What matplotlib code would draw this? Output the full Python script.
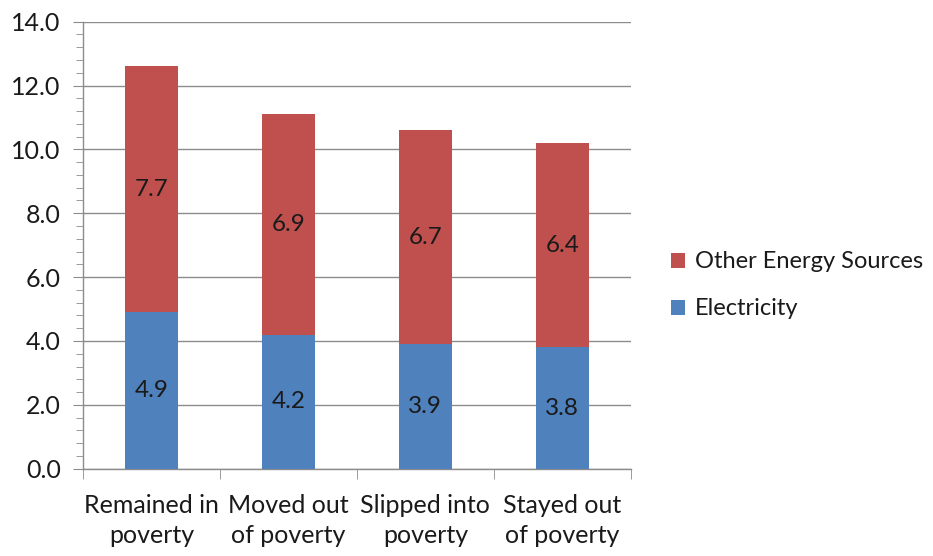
import matplotlib

matplotlib.use("Agg")
import matplotlib.pyplot as plt
import numpy as np
from matplotlib.ticker import MultipleLocator

plt.rcParams["font.family"] = ["Lato", "DejaVu Sans"]

categories = ["Remained in\npoverty", "Moved out\nof poverty", "Slipped into\npoverty", "Stayed out\nof poverty"]
electricity = [4.9, 4.2, 3.9, 3.8]
other_energy = [7.7, 6.9, 6.7, 6.4]
y_ticks = [0, 2, 4, 6, 8, 10, 12, 14]

blue = "#4F81BD"
red = "#C0504D"
text_color = "#1a1a1a"

fig = plt.figure(figsize=(9.33, 5.56), dpi=100)
ax = fig.add_axes([0.089, 0.157, 0.587, 0.804])

x = np.arange(len(categories))
width = 0.39
b1 = ax.bar(x, electricity, width, color=blue, label="Electricity", zorder=3)
b2 = ax.bar(x, other_energy, width, bottom=electricity, color=red,
            label="Other Energy Sources", zorder=3)

for i in range(len(categories)):
    ax.text(x[i], electricity[i] / 2, f"{electricity[i]:.1f}", ha="center",
            va="center", fontsize=17.5, color=text_color, zorder=4)
    ax.text(x[i], electricity[i] + other_energy[i] / 2, f"{other_energy[i]:.1f}",
            ha="center", va="center", fontsize=17.5, color=text_color, zorder=4)

ax.set_yticks(y_ticks)
ax.set_yticklabels([f"{v:.1f}" for v in y_ticks])
ax.yaxis.set_minor_locator(MultipleLocator(0.4))
ax.set_xlim(-0.5, len(categories) - 0.5)
ax.set_ylim(0, 14)
ax.grid(axis="y", which="major", color="#8c8c8c", linewidth=1, zorder=0)

ax.set_xticks(x)
ax.set_xticklabels(categories, fontsize=18, color=text_color, linespacing=1.38)
ax.set_xticks(np.arange(-0.5, len(categories) + 0.5, 1), minor=True)
ax.tick_params(axis="x", which="major", length=0, pad=18)
ax.tick_params(axis="x", which="minor", length=7, color="#8c8c8c", direction="out")
ax.tick_params(axis="y", which="major", length=7, color="#8c8c8c", labelsize=18,
               labelcolor=text_color, pad=9)
ax.tick_params(axis="y", which="minor", length=5, color="#8c8c8c")

for side in ("top", "right"):
    ax.spines[side].set_visible(False)
for side in ("left", "bottom"):
    ax.spines[side].set_color("#8c8c8c")
    ax.spines[side].set_linewidth(1)

handles = [b2, b1]
ax.legend(handles, [h.get_label() for h in handles], loc="center left",
          bbox_to_anchor=(1.035, 0.41), frameon=False, fontsize=17,
          handlelength=0.6, handleheight=0.6, handletextpad=0.4,
          labelspacing=1.1, labelcolor=text_color)

fig.savefig("out.png", dpi=100)
